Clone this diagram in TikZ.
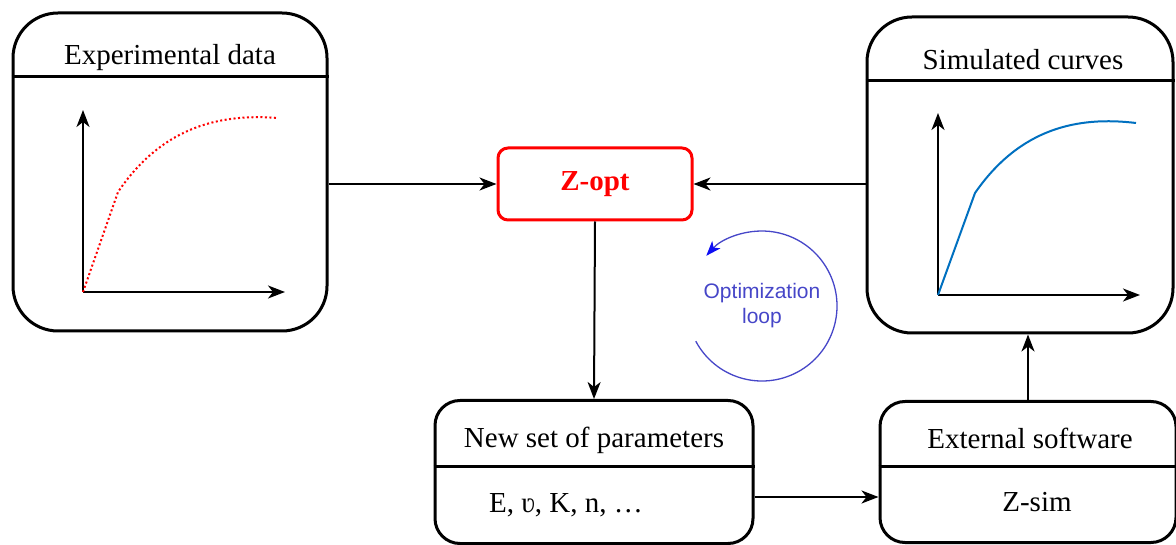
\documentclass[tikz,border=0pt]{standalone}
\usepackage{fontspec}
\setmainfont{Liberation Serif}
\newfontfamily\loopfont{Liberation Sans}
\usetikzlibrary{arrows.meta,positioning}
\definecolor{zred}{RGB}{255,0,0}
\definecolor{simblue}{RGB}{0,112,192}
\definecolor{loopblue}{RGB}{70,70,200}
\begin{document}
\begin{tikzpicture}[x=1pt, y=-1pt, line join=round, >={Stealth[length=17pt,width=13pt,inset=5pt]},
		box/.style={draw, line width=3pt, rounded corners=45pt, inner sep=0pt},
		smallbox/.style={draw, line width=3pt, rounded corners=25pt, inner sep=0pt},
		txt/.style={font=\fontsize{29}{34}\selectfont},
		conn/.style={->, line width=2pt}]
			\useasboundingbox (0,0) rectangle (1176,545);
			% boxes
			\node[box, minimum width=314pt, minimum height=318pt] (exp) at (170,172) {};
			\node[box, minimum width=306pt, minimum height=316pt] (sim) at (1020,175) {};
			\node[draw=zred, line width=3pt, rounded corners=10pt, minimum width=194pt, minimum height=72pt, text=zred, font=\fontsize{29}{34}\selectfont\bfseries] (zopt) at (595,184) {Z-opt};
			\node[smallbox, minimum width=318pt, minimum height=143pt] (params) at (594,472) {};
			\node[smallbox, minimum width=296pt, minimum height=141pt] (ext) at (1028,472) {};
			% titles and dividers
			\node[txt] (exptitle) at (170,58) {Experimental data};
			\node[txt] (simtitle) at (1023,60) {Simulated curves};
			\node[txt] (paramstitle) at (594,440) {New set of parameters};
			\node[txt] (exttitle) at (1030,438) {External software};
			\node[txt] (paramsval) at (566,505) {E, \char"028B, K, n, \ldots};
			\node[txt] (extval) at (1037,502) {Z-sim};
			\coordinate (expdiv) at (0,77);
			\coordinate (simdiv) at (0,81);
			\coordinate (lowdiv) at (0,466);
			\draw[line width=3pt] (exp.west |- expdiv) -- (exp.east |- expdiv);
			\draw[line width=3pt] (sim.west |- simdiv) -- (sim.east |- simdiv);
			\draw[line width=3pt] (params.west |- lowdiv) -- (params.east |- lowdiv);
			\draw[line width=3pt] (ext.west |- lowdiv) -- (ext.east |- lowdiv);
			% plots
			\coordinate (exporig) at (83,292);
			\draw[->, line width=2pt] (exporig) -- ++(0,-182);
			\draw[->, line width=2pt] (exporig) -- ++(202,0);
			\draw[zred, line width=2pt, dash pattern=on 2pt off 2.5pt] (exporig) -- (118,192) .. controls (160,130) and (215,113) .. (278,118);
			\coordinate (simorig) at (938,295);
			\draw[->, line width=2pt] (simorig) -- ++(0,-182);
			\draw[->, line width=2pt] (simorig) -- ++(202,0);
			\draw[simblue, line width=2pt] (simorig) -- (975,193) .. controls (1020,128) and (1078,116) .. (1136,123);
			% connectors
			\draw[conn] (exp.east |- zopt.west) -- (zopt.west);
			\draw[conn] (sim.west |- zopt.east) -- (zopt.east);
			\draw[conn] (zopt.south) -- (params.north);
			\draw[conn] (params.east |- 0,497) -- (ext.west |- 0,497);
			\draw[conn] (ext.north) -- (ext.north |- sim.south);
			% optimization loop
			\coordinate (loopc) at (762,306);
			\node[text=loopblue, align=center, font=\loopfont\fontsize{21}{25}\selectfont] (looptext) at (loopc) {Optimization\\loop};
			\draw[loopblue, line width=1.3pt, -{Stealth[length=15pt,width=11pt,inset=4pt,color=blue!80!loopblue]}] (loopc) ++(152:75) arc[start angle=152, end angle=-138, radius=75];
		\end{tikzpicture}
\end{document}
